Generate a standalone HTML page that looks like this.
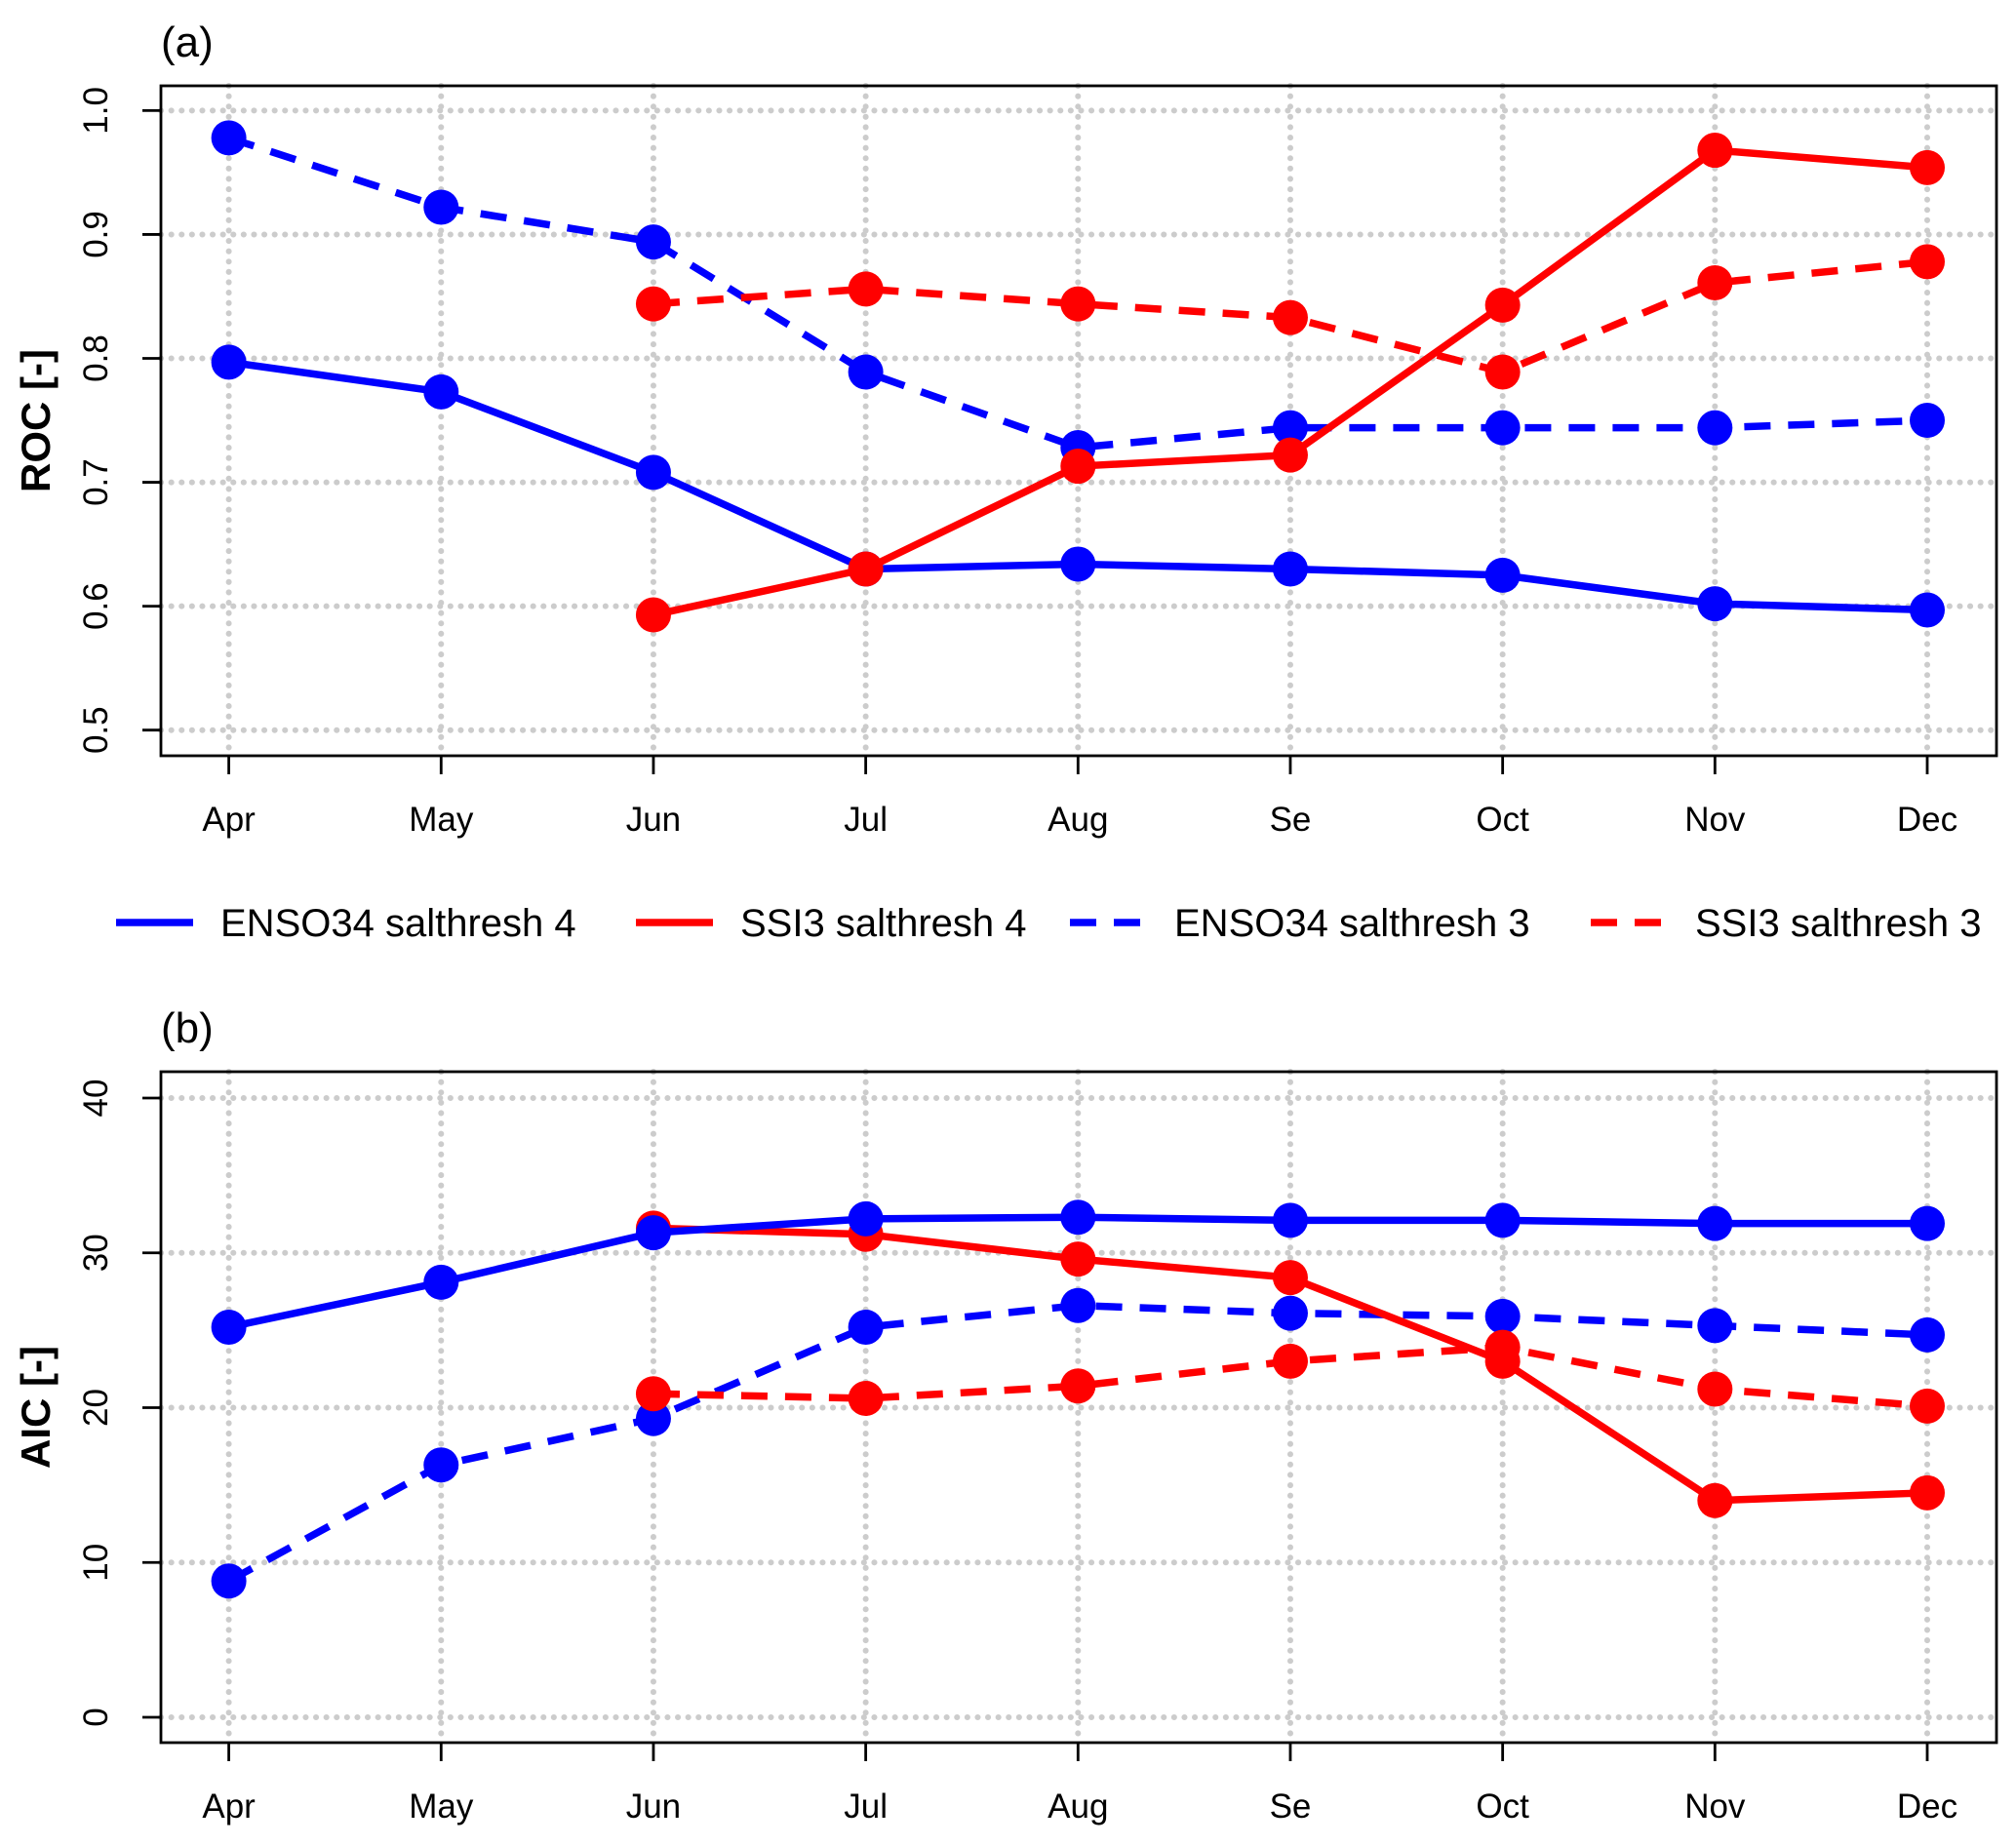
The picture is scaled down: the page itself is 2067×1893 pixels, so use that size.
<!DOCTYPE html>
<html><head><meta charset="utf-8"><style>
html,body{margin:0;padding:0;background:#fff}
svg{display:block}
text{font-family:"Liberation Sans",sans-serif;fill:#000}
</style></head><body>
<svg id="fig" width="2067" height="1893" viewBox="0 0 2067 1893" xmlns="http://www.w3.org/2000/svg"></svg>
<script>
const months = ["Apr","May","Jun","Jul","Aug","Se","Oct","Nov","Dec"];
const rocEnso4 = [0.797,0.773,0.708,0.630,0.634,0.630,0.625,0.602,0.597];
const rocSsi4  = [null,null,0.593,0.630,0.713,0.722,0.843,0.968,0.954];
const rocEnso3 = [0.978,0.922,0.894,0.789,0.728,0.744,0.744,0.744,0.750];
const rocSsi3  = [null,null,0.844,0.856,0.844,0.833,0.789,0.861,0.878];
const aicEnso4 = [25.2,28.1,31.3,32.2,32.3,32.1,32.1,31.9,31.9];
const aicSsi4  = [null,null,31.6,31.2,29.6,28.4,23.0,14.0,14.5];
const aicEnso3 = [8.8,16.3,19.3,25.2,26.6,26.1,25.9,25.3,24.7];
const aicSsi3  = [null,null,20.9,20.6,21.4,23.0,23.9,21.2,20.1];
const rocTicks = [0.5,0.6,0.7,0.8,0.9,1.0];
const rocTickLabels = ["0.5","0.6","0.7","0.8","0.9","1.0"];
const aicTicks = [0,10,20,30,40];
const aicTickLabels = ["0","10","20","30","40"];

const NS="http://www.w3.org/2000/svg";
const svg=document.getElementById('fig');
function mk(tag,attrs,parent){const e=document.createElementNS(NS,tag);for(const k in attrs)e.setAttribute(k,attrs[k]);(parent||svg).appendChild(e);return e;}
const BLUE="#0000ff", RED="#ff0000";
const X0=234.6, X1=1976;
function xs(i){return X0+(X1-X0)*i/(months.length-1);}

function panel(p){
  const g=mk('g',{});
  
  
  function ys(v){return p.yA+(v-p.vA)*(p.yB-p.yA)/(p.vB-p.vA);}
  p.ticks.forEach(t=>{const l=mk('line',{x1:165,x2:2047,y1:ys(t),y2:ys(t),stroke:"#cccccc","stroke-width":6,"stroke-dasharray":"0.1 10.5","stroke-linecap":"round"},g);
    });
  months.forEach((m,i)=>{const l=mk('line',{x1:xs(i),x2:xs(i),y1:p.top,y2:p.bot,stroke:"#cccccc","stroke-width":6,"stroke-dasharray":"0.1 10.5","stroke-linecap":"round"},g);
    });
  const b=mk('rect',{x:165,y:p.top,width:1882,height:p.bot-p.top,fill:"none",stroke:"#000","stroke-width":2.8},g);
  
  months.forEach((m,i)=>{mk('line',{x1:xs(i),x2:xs(i),y1:p.bot,y2:p.bot+19,stroke:"#000","stroke-width":2.8},g);
    const t=mk('text',{x:xs(i),y:p.bot+77,"text-anchor":"middle","font-size":35},g);t.textContent=m;
    });
  p.ticks.forEach((v,i)=>{mk('line',{x1:165,x2:146,y1:ys(v),y2:ys(v),stroke:"#000","stroke-width":2.8},g);
    const t=mk('text',{x:0,y:0,"text-anchor":"middle","font-size":35,transform:`translate(110,${ys(v)}) rotate(-90)`},g);t.textContent=p.labels[i];
    });
  const yt=mk('text',{x:0,y:0,"text-anchor":"middle","font-size":42,"font-weight":"bold",transform:`translate(51,${(p.top+p.bot)/2}) rotate(-90)`},g);
  yt.textContent=p.ytitle;
  const pl=mk('text',{x:165,y:p.top-30,"font-size":44},g);pl.textContent=p.plabel;
  
  p.series.forEach(s=>{
    const sg=mk('g',{},g);
    let d="";s.data.forEach((v,i)=>{if(v==null)return;d+=(d?"L":"M")+xs(i)+","+ys(v);});
    const attrs={d:d,fill:"none",stroke:s.color,"stroke-width":7.5,"stroke-linejoin":"round"};
    if(s.dash)attrs["stroke-dasharray"]="27 18";
    const path=mk('path',attrs,sg);
    s.data.forEach((v,i)=>{if(v==null)return;const c=mk('circle',{cx:xs(i),cy:ys(v),r:18,fill:s.color},sg);
      });
  });
}
panel({name:'panel-a-roc',top:88,bot:775,yA:113.4,vA:1.0,yB:748.7,vB:0.5,ticks:rocTicks,labels:rocTickLabels,ytitle:"ROC [-]",plabel:"(a)",
  series:[{name:'roc-enso34-s4',data:rocEnso4,color:BLUE},{name:'roc-enso34-s3',data:rocEnso3,color:BLUE,dash:1},
          {name:'roc-ssi3-s3',data:rocSsi3,color:RED,dash:1},{name:'roc-ssi3-s4',data:rocSsi4,color:RED}]});
panel({name:'panel-b-aic',top:1099,bot:1787,yA:1126,vA:40,yB:1761,vB:0,ticks:aicTicks,labels:aicTickLabels,ytitle:"AIC [-]",plabel:"(b)",
  series:[{name:'aic-enso34-s3',data:aicEnso3,color:BLUE,dash:1},{name:'aic-ssi3-s3',data:aicSsi3,color:RED,dash:1},
          {name:'aic-ssi3-s4',data:aicSsi4,color:RED},{name:'aic-enso34-s4',data:aicEnso4,color:BLUE}]});
const lg=mk('g',{});
const legendLabels=["ENSO34 salthresh 4","SSI3 salthresh 4","ENSO34 salthresh 3","SSI3 salthresh 3"];
const legendColors=[BLUE,RED,BLUE,RED];
const legendDash=[0,0,1,1];
const legX=[119,652,1097,1631];
legendLabels.forEach((lab,i)=>{
  const e=mk('g',{},lg);
  const a={x1:legX[i],x2:legX[i]+79,y1:946,y2:946,stroke:legendColors[i],"stroke-width":7.5};
  if(legendDash[i])a["stroke-dasharray"]="27 18";
  mk('line',a,e);
  const t=mk('text',{x:legX[i]+107,y:960,"font-size":40},e);t.textContent=lab;
});
</script>
</body></html>
